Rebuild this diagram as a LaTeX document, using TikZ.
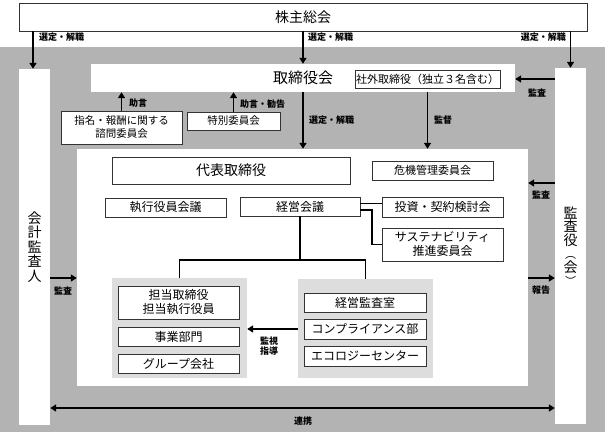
\documentclass[tikz,border=0pt]{standalone}
\usepackage{fontspec}
\setmainfont{Noto Sans CJK JP}
\usetikzlibrary{arrows.meta}

\definecolor{bggray}{RGB}{179,179,179}
\definecolor{grpgray}{RGB}{221,221,221}

\tikzset{
  box/.style={draw=black!80, line width=0.8pt, fill=white, inner sep=0pt, align=center},
  col/.style={fill=white, inner sep=0pt, align=center, minimum width=31pt, minimum height=356pt,
    font=\fontsize{14}{14.5}\selectfont},
  grp/.style={fill=grpgray, inner sep=0pt, minimum width=135pt, minimum height=100pt},
  lbl/.style={font=\fontsize{9}{11}\selectfont\bfseries, inner sep=0pt},
  arr/.style={line width=1.8pt, -{Triangle[length=6pt,width=7pt]}},
  link/.style={line width=1.8pt},
}

\begin{document}
\begin{tikzpicture}[x=1pt,y=-1pt]
        \useasboundingbox (0,0) rectangle (605,432);
        \fill[bggray] (0,47) rectangle (605,432);

        % top and the two side columns
        \node (soukai) [box, minimum width=568pt, minimum height=28pt, font=\fontsize{14}{16}\selectfont] at (303,17) {株主総会};
        \node (kaikei) [col] at (34.5,247) {会\\計\\監\\査\\人};
        \node (kansa) [col, font=\fontsize{14}{13.5}\selectfont] at (570.5,246) {監\\査\\役\\{\fontsize{11}{11}\selectfont ︵}\\会\\{\fontsize{11}{11}\selectfont ︶}};

        % board
        \node (tori) [fill=white, inner sep=0pt, minimum width=424pt, minimum height=28pt, font=\fontsize{15}{16}\selectfont] at (303,78) {取締役会};
        \node (shagai) [box, minimum width=145pt, minimum height=18pt, font=\fontsize{11}{12}\selectfont] at (427.5,79) {社外取締役（独立３名含む）};
        \node (shimei) [box, minimum width=121pt, minimum height=33pt, font=\fontsize{10.5}{13}\selectfont] at (121.5,127.5) {指名・報酬に関する\\諮問委員会};
        \node (tokubetsu) [box, minimum width=93pt, minimum height=18pt, font=\fontsize{10.5}{12}\selectfont] at (233.5,121) {特別委員会};

        % execution
        \node (inner) [fill=white, inner sep=0pt, minimum width=451pt, minimum height=237pt] at (302.5,267.5) {};
        \node (daihyou) [box, minimum width=238pt, minimum height=27pt, font=\fontsize{14}{16}\selectfont] at (231,170.5) {代表取締役};
        \node (kiki) [box, minimum width=121pt, minimum height=19pt, font=\fontsize{11}{12}\selectfont] at (432.5,170.5) {危機管理委員会};
        \node (shikkou) [box, minimum width=121pt, minimum height=19pt, font=\fontsize{12}{13}\selectfont] at (165.5,207.5) {執行役員会議};
        \node (keiei) [box, minimum width=120pt, minimum height=19pt, font=\fontsize{12}{13}\selectfont] at (300,206.5) {経営会議};
        \node (toushi) [box, minimum width=121pt, minimum height=20pt, font=\fontsize{12}{13}\selectfont] at (442.5,207) {投資・契約検討会};
        \node (susta) [box, minimum width=121pt, minimum height=33pt, font=\fontsize{12}{14}\selectfont] at (442.5,244.5) {サステナビリティ\\推進委員会};

        \node (lgrp) [grp] at (179.5,328) {};
        \node (rgrp) [grp, minimum height=99pt] at (365.5,328.5) {};
        \node (tantou) [box, minimum width=121pt, minimum height=33pt, font=\fontsize{12}{14}\selectfont] at (178.5,302.5) {担当取締役\\担当執行役員};
        \node (jigyou) [box, minimum width=121pt, minimum height=19pt, font=\fontsize{12}{13}\selectfont] at (178.5,336.5) {事業部門};
        \node (group) [box, minimum width=121pt, minimum height=19pt, font=\fontsize{12}{13}\selectfont] at (178.5,363.5) {グループ会社};
        \node (kansashitsu) [box, minimum width=122pt, minimum height=19pt, font=\fontsize{12}{13}\selectfont] at (365,302.5) {経営監査室};
        \node (compli) [box, minimum width=122pt, minimum height=20pt, font=\fontsize{12}{13}\selectfont] at (365,329) {コンプライアンス部};
        \node (eco) [box, minimum width=122pt, minimum height=20pt, font=\fontsize{12}{13}\selectfont] at (365,356) {エコロジーセンター};

        % arrows from the shareholders
        \draw[arr] (soukai.south -| 33,0) -- (kaikei.north -| 33,0);
        \draw[arr] (soukai.south -| tori) -- (tori.north);
        \draw[arr] (soukai.south -| kansa) -- (kansa.north);
        \node (l1) [lbl, anchor=west] at (39,37) {選定・解職};
        \node (l2) [lbl, anchor=west] at (308,37) {選定・解職};
        \node (l3) [lbl, anchor=east] at (566,37) {選定・解職};

        % around the board
        \draw[arr] (kansa.west |- shagai) -- (tori.east |- shagai);
        \node (l4) [lbl] at (537,93) {監査};
        \draw[arr] (shimei.north) -- (shimei.north |- tori.south);
        \node (l5) [lbl, anchor=west] at (129,103) {助言};
        \draw[arr] (tokubetsu.north) -- (tokubetsu.north |- tori.south);
        \node (l6) [lbl, anchor=west] at (240,104) {助言・勧告};
        \draw[arr] (tori.south) -- (tori.south |- inner.north);
        \node (l7) [lbl, anchor=west] at (309,120) {選定・解職};
        \draw[arr] (shagai.south |- tori.south) -- (shagai.south |- inner.north);
        \node (l8) [lbl, anchor=west] at (434,120) {監督};

        % audit and report
        \draw[arr] (kansa.west |- 0,183) -- (inner.east |- 0,183);
        \node (l9) [lbl] at (541,195) {監査};
        \draw[arr] (inner.east |- 0,278) -- (kansa.west |- 0,278);
        \node (l10) [lbl] at (541,290) {報告};
        \draw[arr] (kaikei.east |- 0,278) -- (inner.west |- 0,278);
        \node (l11) [lbl] at (63,291) {監査};

        % management meeting tree
        \draw[link] (keiei.south) -- (keiei.south |- 0,260);
        \draw[link] (lgrp.north) -- (lgrp.north |- 0,260) -- (rgrp.north |- 0,260) -- (rgrp.north);
        \coordinate (k1) at ([yshift=3pt]keiei.east);
        \coordinate (k2) at ([yshift=-3.5pt]keiei.east);
        \draw[link] (k1) -- (k1 -| toushi.west);
        \draw[link] (k2) -| ([xshift=-10pt]susta.west) -- (susta.west);

        \draw[arr] (rgrp.west |- 0,329) -- (lgrp.east |- 0,329);
        \node (l12) [lbl, align=center, font=\fontsize{9}{10.5}\selectfont\bfseries] at (269,346) {監視\\指導};

        % cooperation
        \draw[line width=1.8pt, {Triangle[length=6pt,width=7pt]}-{Triangle[length=6pt,width=7pt]}] (kaikei.east |- 0,408) -- (kansa.west |- 0,408);
        \node (l13) [lbl] at (303,421) {連携};
    \end{tikzpicture}
\end{document}
